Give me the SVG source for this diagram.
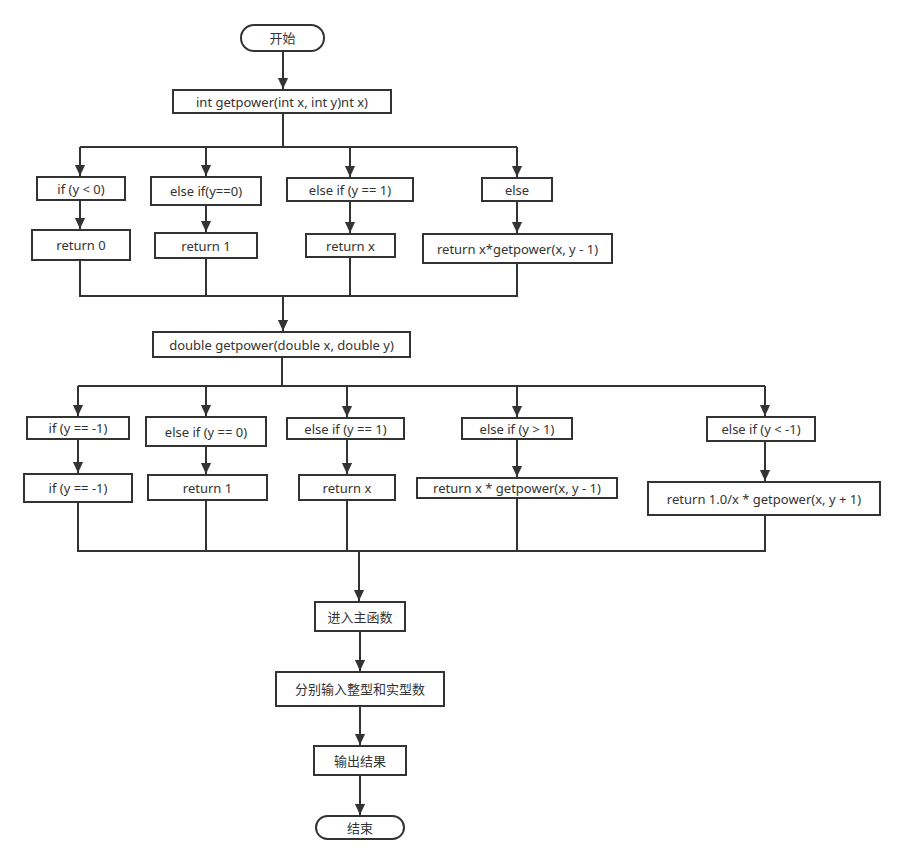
<svg xmlns="http://www.w3.org/2000/svg" width="905" height="864" viewBox="0 0 905 864">
<style>
.n rect{fill:#fff;stroke:#333;stroke-width:2}
.n text{font-family:"Noto Sans","Noto Sans CJK SC",sans-serif;font-size:13px;fill:#333;text-anchor:middle;dominant-baseline:central}
.c path{fill:none;stroke:#333;stroke-width:2}
</style>
<defs>
<marker id="a" markerUnits="userSpaceOnUse" markerWidth="12" markerHeight="14" refX="6" refY="13" orient="auto-start-reverse" viewBox="0 0 12 14">
<path d="M0,0 L12,0 L6,13 Z" fill="#333" transform="rotate(0)"/>
</marker>
<marker id="d" markerUnits="userSpaceOnUse" markerWidth="12" markerHeight="14" refX="13" refY="6" orient="auto" viewBox="0 0 14 12">
<path d="M0,0 L13,6 L0,12 Z" fill="#333"/>
</marker>
</defs>
<rect width="905" height="864" fill="#fff"/>
<g class="c">
<path d="M283,51 V89" marker-end="url(#d)"/>
<path d="M283,113 V147 M80,147 H517"/>
<path d="M80,147 V176" marker-end="url(#d)"/>
<path d="M206,147 V176" marker-end="url(#d)"/>
<path d="M350,147 V177" marker-end="url(#d)"/>
<path d="M517,147 V177" marker-end="url(#d)"/>
<path d="M80,200 V229" marker-end="url(#d)"/>
<path d="M206,205 V232" marker-end="url(#d)"/>
<path d="M350,201 V233" marker-end="url(#d)"/>
<path d="M517,201 V233" marker-end="url(#d)"/>
<path d="M80,260 V296 H517 V263 M206,258 V296 M350,257 V296"/>
<path d="M283,296 V331" marker-end="url(#d)"/>
<path d="M282,357 V386 M78,386 H765"/>
<path d="M78,386 V416" marker-end="url(#d)"/>
<path d="M206,386 V416" marker-end="url(#d)"/>
<path d="M347,386 V417" marker-end="url(#d)"/>
<path d="M517,386 V417" marker-end="url(#d)"/>
<path d="M765,386 V416" marker-end="url(#d)"/>
<path d="M78,439 V473" marker-end="url(#d)"/>
<path d="M206,446 V474" marker-end="url(#d)"/>
<path d="M347,439 V474" marker-end="url(#d)"/>
<path d="M517,439 V477" marker-end="url(#d)"/>
<path d="M765,441 V481" marker-end="url(#d)"/>
<path d="M78,502 V551 H765 V515 M206,500 V551 M347,500 V551 M517,498 V551"/>
<path d="M359,551 V601" marker-end="url(#d)"/>
<path d="M360,631 V671" marker-end="url(#d)"/>
<path d="M360,706 V745" marker-end="url(#d)"/>
<path d="M360,775 V815" marker-end="url(#d)"/>
</g>
<g id="start" class="n"><rect x="241" y="25" width="83" height="26" rx="13"/><text x="282.5" y="38">开始</text></g>
<g id="intfn" class="n"><rect x="173" y="90" width="218" height="23"/><text x="282" y="101.5">int getpower(int x, int y)nt x)</text></g>
<g id="i1" class="n"><rect x="37" y="177" width="88" height="23"/><text x="81" y="188.5">if (y &lt; 0)</text></g>
<g id="i2" class="n"><rect x="151" y="177" width="110" height="28"/><text x="206" y="191">else if(y==0)</text></g>
<g id="i3" class="n"><rect x="287" y="178" width="126" height="23"/><text x="350" y="189.5">else if (y == 1)</text></g>
<g id="i4" class="n"><rect x="482" y="178" width="70" height="23"/><text x="517" y="189.5">else</text></g>
<g id="r1" class="n"><rect x="32" y="230" width="98" height="30"/><text x="81" y="245">return 0</text></g>
<g id="r2" class="n"><rect x="155" y="233" width="102" height="25"/><text x="206" y="245.5">return 1</text></g>
<g id="r3" class="n"><rect x="306" y="234" width="89" height="23"/><text x="350.5" y="245.5">return x</text></g>
<g id="r4" class="n"><rect x="423" y="234" width="189" height="29"/><text x="517.5" y="248.5">return x*getpower(x, y - 1)</text></g>
<g id="dblfn" class="n"><rect x="153" y="332" width="257" height="25"/><text x="281.5" y="344.5">double getpower(double x, double y)</text></g>
<g id="d1" class="n"><rect x="27" y="417" width="102" height="22"/><text x="78" y="428">if (y == -1)</text></g>
<g id="d2" class="n"><rect x="146" y="417" width="120" height="29"/><text x="206" y="431.5">else if (y == 0)</text></g>
<g id="d3" class="n"><rect x="287" y="418" width="117" height="21"/><text x="345.5" y="428.5">else if (y == 1)</text></g>
<g id="d4" class="n"><rect x="462" y="418" width="110" height="21"/><text x="517" y="428.5">else if (y &gt; 1)</text></g>
<g id="d5" class="n"><rect x="707" y="417" width="108" height="24"/><text x="761" y="429">else if (y &lt; -1)</text></g>
<g id="e1" class="n"><rect x="24" y="474" width="108" height="28"/><text x="78" y="488">if (y == -1)</text></g>
<g id="e2" class="n"><rect x="148" y="475" width="119" height="25"/><text x="207.5" y="487.5">return 1</text></g>
<g id="e3" class="n"><rect x="299" y="475" width="96" height="25"/><text x="347" y="487.5">return x</text></g>
<g id="e4" class="n"><rect x="417" y="478" width="200" height="20"/><text x="517" y="488">return x * getpower(x, y - 1)</text></g>
<g id="e5" class="n"><rect x="648" y="482" width="232" height="33"/><text x="764" y="498.5">return 1.0/x * getpower(x, y + 1)</text></g>
<g id="main" class="n"><rect x="315" y="602" width="90" height="29"/><text x="360" y="616.5">进入主函数</text></g>
<g id="input" class="n"><rect x="276" y="672" width="168" height="34"/><text x="360" y="689">分别输入整型和实型数</text></g>
<g id="output" class="n"><rect x="314" y="746" width="92" height="29"/><text x="360" y="760.5">输出结果</text></g>
<g id="end" class="n"><rect x="316" y="816" width="88" height="23" rx="11.5"/><text x="360" y="827.5">结束</text></g>
</svg>
